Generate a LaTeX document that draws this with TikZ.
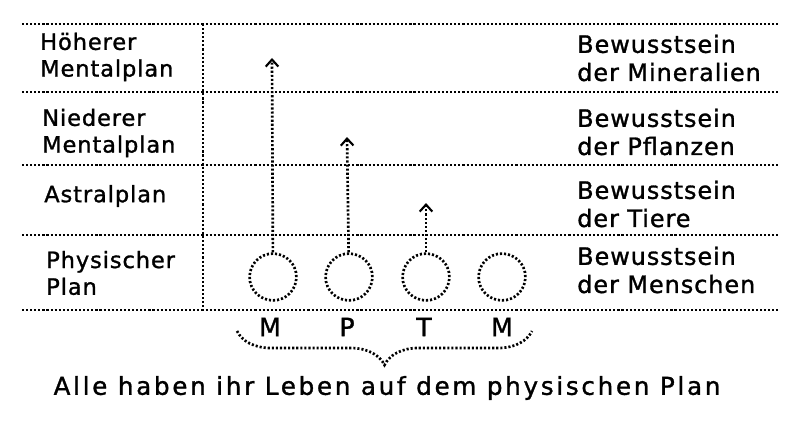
\documentclass[tikz,border=0pt]{standalone}
\usepackage{fontspec}
\setmainfont{DejaVu Sans}[FakeBold=1.2]
\newfontfamily\planfont[LetterSpace=4,FakeBold=1.2]{DejaVu Sans}
\newfontfamily\wordfont[LetterSpace=4,FakeBold=1.2]{DejaVu Sans}
\newfontfamily\lifefont[LetterSpace=11,FakeBold=1.2]{DejaVu Sans}
\usetikzlibrary{arrows.meta,positioning,decorations.pathreplacing}

\tikzset{
  dotline/.style={line width=1.9pt, dash pattern=on 1.5pt off 1.4pt},
  planlabel/.style={anchor=west, align=left, inner sep=0pt,
    font=\planfont\fontsize{16}{19}\selectfont},
  stagelabel/.style={anchor=west, align=left, inner sep=0pt,
    font=\wordfont\fontsize{17}{20}\selectfont},
  being/.style={draw, circle, dotline, minimum size=1.17cm, inner sep=0pt},
  rise/.style={dotline, -{Straight Barb[length=5pt,width=9pt,line width=1.5pt]}},
  kindlabel/.style={font=\fontsize{18}{20}\selectfont, inner sep=0pt}
}

\begin{document}
\begin{tikzpicture}[x=0.025cm, y=-0.025cm]
    \useasboundingbox (0,0) rectangle (800,427);

    % Grid of the planes
    \foreach \y in {24,92,165,235,310}
        \draw[dotline] (22,\y) -- (778,\y);
    \draw[dotline] (203,24) -- (203,310);

    % Planes (left)
    \node[planlabel] (hoeher) at (40,57) {Höherer\\Mentalplan};
    \node[planlabel] (nieder) at (42,133) {Niederer\\Mentalplan};
    \node[planlabel] (astral) at (44,196) {Astralplan};
    \node[planlabel] (physisch) at (46,273) {Physischer\\Plan};

    % Consciousness (right)
    \node[stagelabel] (mineral) at (577,58) {Bewusstsein\\der Mineralien};
    \node[stagelabel] (pflanze) at (577,132) {Bewusstsein\\der Pflanzen};
    \node[stagelabel] (tier) at (577,204) {Bewusstsein\\der Tiere};
    \node[stagelabel] (mensch) at (577,270) {Bewusstsein\\der Menschen};

    % Beings on the physical plane
    \node[being] (m1) at (273,277) {};
    \node[being] (p) at (349,277) {};
    \node[being] (t) at (426,277) {};
    \node[being] (m2) at (502,277) {};

    % Rising arrows
    \coordinate (m1top) at (272,58);
    \coordinate (ptop) at (347,137);
    \coordinate (ttop) at (426,203);
    \draw[rise] (m1) -- (m1top);
    \draw[rise] (p) -- (ptop);
    \draw[rise] (t) -- (ttop);

    % Letters
    \node[kindlabel] (lm1) at (270,327) {M};
    \node[kindlabel] (lp) at (347,327) {P};
    \node[kindlabel] (lt) at (424,327) {T};
    \node[kindlabel] (lm2) at (502,327) {M};

    % Brace
    \coordinate (bl) at (237,331);
    \coordinate (br) at (532,331);
    \draw[dotline, decorate, decoration={brace, mirror, amplitude=0.85cm}] (bl) -- (br);

    \node[font=\lifefont\fontsize{17.5}{20}\selectfont] (alle) at (387,388)
        {Alle haben ihr Leben auf dem physischen Plan};
\end{tikzpicture}
\end{document}
